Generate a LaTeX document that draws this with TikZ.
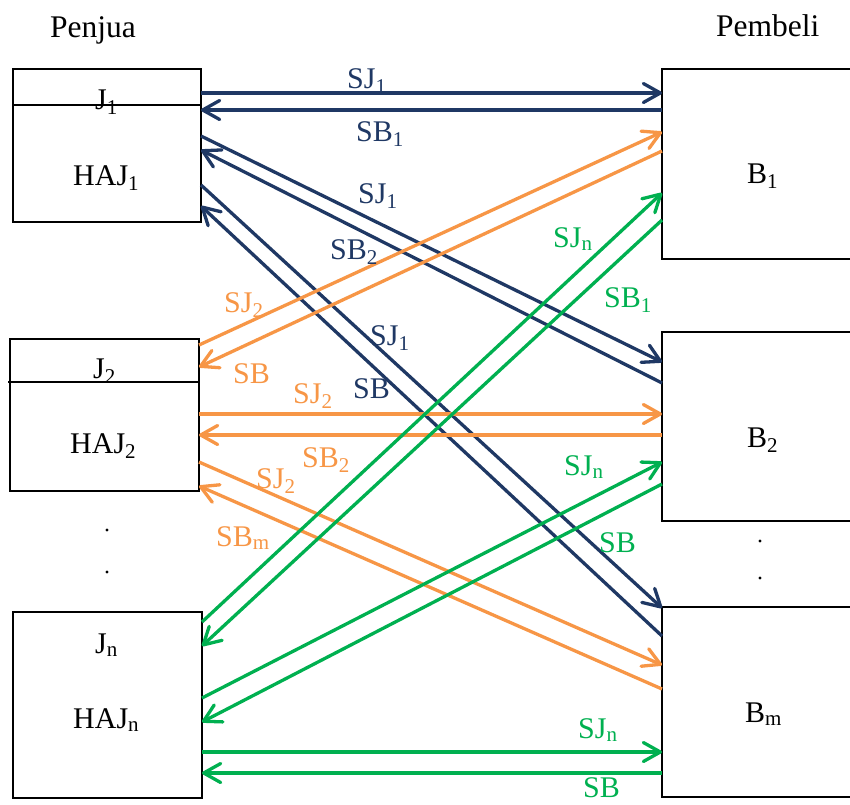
\documentclass[tikz,border=0pt]{standalone}
\usepackage{fontspec}
\setmainfont{Liberation Serif}
\usetikzlibrary{arrows.meta}

\definecolor{navyline}{HTML}{1F3864}
\definecolor{orangeline}{HTML}{F79646}
\definecolor{greenline}{HTML}{00B050}

\begin{document}
\begin{tikzpicture}[x=1pt, y=-1pt,
    box/.style={draw, line width=1.6pt, rectangle, outer sep=0pt, inner sep=0pt, anchor=north west},
    txt/.style={anchor=base west, inner sep=0pt, font=\fontsize{30}{36}\selectfont},
    head/.style={txt, font=\fontsize{31.5}{36}\selectfont},
    link/.style={line width=3.3pt, -{Straight Barb[length=17pt,width=19pt,round]}},
    pt/.style={circle, fill=black, inner sep=0pt, minimum size=3.4pt}]
\useasboundingbox (0,0) rectangle (850,804);
\clip (0,0) rectangle (850,804);

% penjual
\node[box, minimum width=188pt, minimum height=153pt] (j1) at (13,69) {};
\node[box, minimum width=189pt, minimum height=152pt] (j2) at (10,339) {};
\node[box, minimum width=189pt, minimum height=186pt] (jn) at (13,612) {};
\draw[line width=1.6pt] (j1.west |- 0,105) -- (j1.east |- 0,105);
\draw[line width=1.6pt] (8,382) -- (j2.east |- 0,382);

% pembeli
\node[box, minimum width=250pt, minimum height=190pt] (b1) at (662,69) {};
\node[box, minimum width=250pt, minimum height=189pt] (b2) at (662,332) {};
\node[box, minimum width=250pt, minimum height=190pt] (bm) at (662,607) {};

% teks
\node[head] (penjual) at (50,37) {Penjua};
\node[head] (pembeli) at (716,36) {Pembeli};
\node[txt] (tj1) at (95,109) {J\textsubscript{1}};
\node[txt] (thaj1) at (73,185) {HAJ\textsubscript{1}};
\node[txt] (tj2) at (93,378) {J\textsubscript{2}};
\node[txt] (thaj2) at (70,453) {HAJ\textsubscript{2}};
\node[txt] (tjn) at (95,653) {J\textsubscript{n}};
\node[txt] (thajn) at (73,728) {HAJ\textsubscript{n}};
\node[txt] (tb1) at (747,183) {B\textsubscript{1}};
\node[txt] (tb2) at (747,447) {B\textsubscript{2}};
\node[txt] (tbm) at (745,722) {B\textsubscript{m}};

% titik
\node[pt] (dl1) at (107,530) {};
\node[pt] (dl2) at (107,572) {};
\node[pt] (dr1) at (760,541) {};
\node[pt] (dr2) at (760,578) {};

% panah penjual 1
\draw[link, navyline] (j1.east |- 0,93) -- (b1.west |- 0,93);
\draw[link, navyline] (b1.west |- 0,110) -- (j1.east |- 0,110);
\draw[link, navyline] (j1.east |- 0,136) -- (b2.west |- 0,362);
\draw[link, navyline] (b2.west |- 0,383) -- (j1.east |- 0,150);
\draw[link, navyline] (j1.east |- 0,185) -- (bm.west |- 0,608);
\draw[link, navyline] (bm.west |- 0,636) -- (j1.east |- 0,206);

% panah penjual 2
\draw[link, orangeline] (j2.east |- 0,345) -- (b1.west |- 0,132);
\draw[link, orangeline] (b1.west |- 0,151) -- (j2.east |- 0,367);
\draw[link, orangeline] (j2.east |- 0,414) -- (b2.west |- 0,414);
\draw[link, orangeline] (b2.west |- 0,435) -- (j2.east |- 0,435);
\draw[link, orangeline] (j2.east |- 0,462) -- (bm.west |- 0,665);
\draw[link, orangeline] (bm.west |- 0,689) -- (j2.east |- 0,486);

% panah penjual n
\draw[link, greenline] (jn.east |- 0,622) -- (b1.west |- 0,193);
\draw[link, greenline] (b1.west |- 0,220) -- (jn.east |- 0,646);
\draw[link, greenline] (jn.east |- 0,698) -- (b2.west |- 0,462);
\draw[link, greenline] (b2.west |- 0,484) -- (jn.east |- 0,722);
\draw[link, greenline] (jn.east |- 0,752) -- (bm.west |- 0,752);
\draw[link, greenline] (bm.west |- 0,773) -- (jn.east |- 0,773);

% label
\node[txt, navyline] (sj1a) at (347,88) {SJ\textsubscript{1}};
\node[txt, navyline] (sb1a) at (356,141) {SB\textsubscript{1}};
\node[txt, navyline] (sj1b) at (358,203) {SJ\textsubscript{1}};
\node[txt, navyline] (sb2a) at (330,259) {SB\textsubscript{2}};
\node[txt, navyline] (sj1c) at (370,345) {SJ\textsubscript{1}};
\node[txt, navyline] (sba) at (353,398) {SB};
\node[txt, orangeline] (sj2a) at (224,312) {SJ\textsubscript{2}};
\node[txt, orangeline] (sbb) at (233,383) {SB};
\node[txt, orangeline] (sj2b) at (293,403) {SJ\textsubscript{2}};
\node[txt, orangeline] (sb2b) at (302,467) {SB\textsubscript{2}};
\node[txt, orangeline] (sj2c) at (256,488) {SJ\textsubscript{2}};
\node[txt, orangeline] (sbm) at (216,546) {SB\textsubscript{m}};
\node[txt, greenline] (sjna) at (553,247) {SJ\textsubscript{n}};
\node[txt, greenline] (sb1b) at (604,307) {SB\textsubscript{1}};
\node[txt, greenline] (sjnb) at (564,475) {SJ\textsubscript{n}};
\node[txt, greenline] (sbc) at (599,552) {SB};
\node[txt, greenline] (sjnc) at (578,738) {SJ\textsubscript{n}};
\node[txt, greenline] (sbd) at (583,797) {SB};
\end{tikzpicture}
\end{document}
